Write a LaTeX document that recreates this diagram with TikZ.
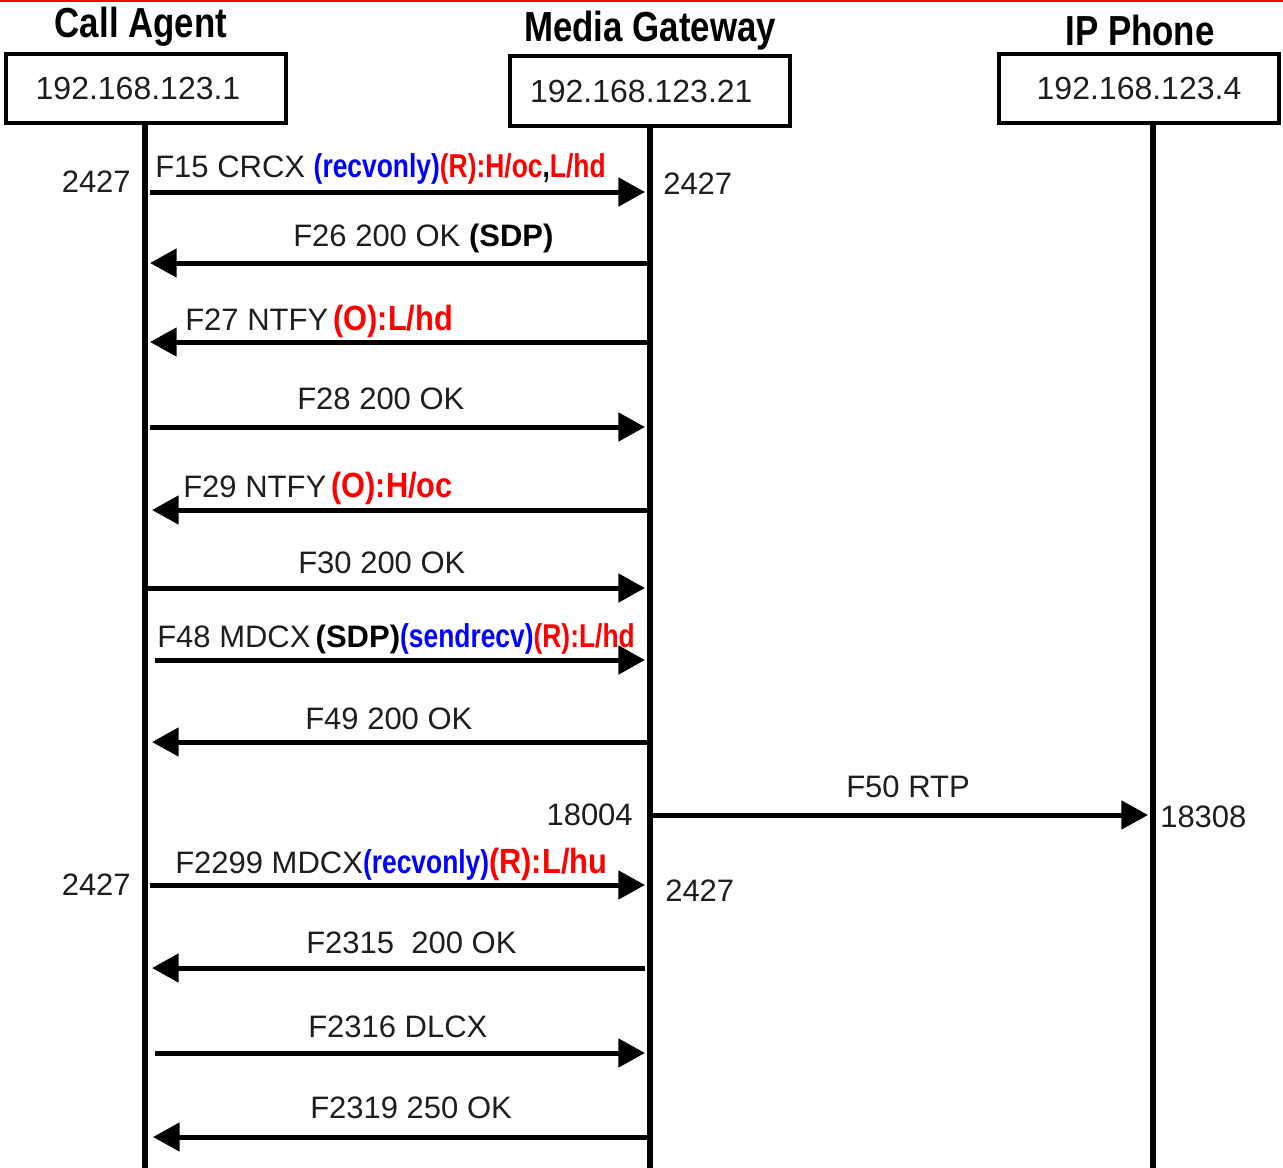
\documentclass[tikz,border=0pt]{standalone}
\usepackage{fontspec}
\setmainfont{Liberation Sans}
\newfontfamily\hdrfont{Liberation Sans}[FakeStretch=0.83]
\newfontfamily\condfont{Liberation Sans}[FakeStretch=0.8]
\newfontfamily\wcondfont{Liberation Sans}[FakeStretch=0.88]
\usetikzlibrary{arrows.meta}
\definecolor{mblue}{RGB}{0,0,255}
\definecolor{mred}{RGB}{255,0,0}
\definecolor{txt}{RGB}{30,30,30}
\newcommand\smc[2]{{\condfont\bfseries\fontsize{24.75}{28}\selectfont\color{#1}#2}}
\newcommand\lgc[2]{{\wcondfont\bfseries\fontsize{26.25}{30}\selectfont\color{#1}#2}}
\newcommand\bsdp[1]{{\bfseries\color{black}#1}}
\tikzset{
  lbl/.style={inner sep=0pt, anchor=base west, font=\fontsize{23.25}{28}\selectfont, text=txt},
  portl/.style={inner sep=0pt, anchor=base east, font=\fontsize{23.25}{28}\selectfont, text=txt},
  portr/.style={inner sep=0pt, anchor=base west, font=\fontsize{23.25}{28}\selectfont, text=txt},
  hdr/.style={inner sep=0pt, anchor=base, font=\hdrfont\bfseries\fontsize{31.5}{36}\selectfont},
  ipbox/.style={draw, line width=3pt, minimum width=210pt, minimum height=52pt, inner sep=0pt,
    font=\fontsize{24}{28}\selectfont, text=txt},
  life/.style={line width=4.5pt},
  msg/.style={line width=3.75pt, -{Triangle[length=20pt,width=21pt]}}
}
\begin{document}
\begin{tikzpicture}[x=0.75pt,y=-0.75pt]
\useasboundingbox (0,0) rectangle (1283,1168);
\fill[white] (0,0) rectangle (1283,1168);
\draw[mred, line width=1.5pt] (0,1) -- (1283,1);

% headers
\node[hdr] (hca) at (141,37) {Call Agent};
\node[hdr] (hmg) at (650,41) {Media Gateway};
\node[hdr] (hip) at (1140,45) {IP Phone};

% boxes
\node[ipbox] (ca) at (146,88.5) {192.168.123.1\hspace*{12pt}};
\node[ipbox] (mg) at (650,91) {192.168.123.21\hspace*{13pt}};
\node[ipbox] (ip) at (1139,88.5) {192.168.123.4};

% lifelines
\coordinate (caend) at (145,1168);
\coordinate (mgend) at (650,1168);
\coordinate (ipend) at (1153,1168);
\coordinate (catop) at (145,125);
\coordinate (mgtop) at (650,127);
\coordinate (iptop) at (1153,125);
\draw[life] (catop) -- (caend);
\draw[life] (mgtop) -- (mgend);
\draw[life] (iptop) -- (ipend);

% message end points
\coordinate (a1) at (150,192);  \coordinate (b1) at (645,192);
\coordinate (a2) at (150,263);  \coordinate (b2) at (648,263);
\coordinate (a3) at (150,342);  \coordinate (b3) at (648,342);
\coordinate (a4) at (150,427);  \coordinate (b4) at (645,427);
\coordinate (a5) at (152,510);  \coordinate (b5) at (648,510);
\coordinate (a6) at (147,588);  \coordinate (b6) at (645,588);
\coordinate (a7) at (155,660);  \coordinate (b7) at (645,660);
\coordinate (a8) at (152,742);  \coordinate (b8) at (648,742);
\coordinate (m9) at (653,815);  \coordinate (p9) at (1148,815);
\coordinate (a10) at (150,885); \coordinate (b10) at (645,885);
\coordinate (a11) at (152,968); \coordinate (b11) at (645,968);
\coordinate (a12) at (155,1053); \coordinate (b12) at (645,1053);
\coordinate (a13) at (153,1137); \coordinate (b13) at (648,1137);

\draw[msg] (a1) -- (b1);
\draw[msg] (b2) -- (a2);
\draw[msg] (b3) -- (a3);
\draw[msg] (a4) -- (b4);
\draw[msg] (b5) -- (a5);
\draw[msg] (a6) -- (b6);
\draw[msg] (a7) -- (b7);
\draw[msg] (b8) -- (a8);
\draw[msg] (m9) -- (p9);
\draw[msg] (a10) -- (b10);
\draw[msg] (b11) -- (a11);
\draw[msg] (a12) -- (b12);
\draw[msg] (b13) -- (a13);

% labels
\node[lbl] (l1) at (155,177) {F15 CRCX \smc{mblue}{(recvonly)}\smc{mred}{(R):H/oc}\smc{black}{,}\smc{mred}{L/hd}};
\node[lbl] (l2) at (293,246) {F26 200 OK \bsdp{(SDP)}};
\node[lbl] (l3) at (185,330) {F27 NTFY\,\lgc{mred}{(O):L/hd}};
\node[lbl] (l4) at (297,409) {F28 200 OK};
\node[lbl] (l5) at (183,497) {F29 NTFY\,\lgc{mred}{(O):H/oc}};
\node[lbl] (l6) at (298,573) {F30 200 OK};
\node[lbl] (l7) at (157,647) {F48 MDCX\,\bsdp{(SDP)}\smc{mblue}{(sendrecv)}\smc{mred}{(R):L/hd}};
\node[lbl] (l8) at (305,729) {F49 200 OK};
\node[lbl] (l9) at (846,797) {F50 RTP};
\node[lbl] (l10) at (175,873) {F2299 MDCX\smc{mblue}{(recvonly)}\lgc{mred}{(R):L/hu}};
\node[lbl] (l11) at (306,953) {F2315\ \ 200 OK};
\node[lbl] (l12) at (308,1037) {F2316 DLCX};
\node[lbl] (l13) at (310,1118) {F2319 250 OK};

% ports
\node[portl] (pa1) at (131,192) {2427};
\node[portr] (pb1) at (663,194) {2427};
\node[portl] (pm9) at (633,825) {18004};
\node[portr] (pp9) at (1160,827) {18308};
\node[portl] (pa10) at (131,895) {2427};
\node[portr] (pb10) at (665,901) {2427};
\end{tikzpicture}
\end{document}
